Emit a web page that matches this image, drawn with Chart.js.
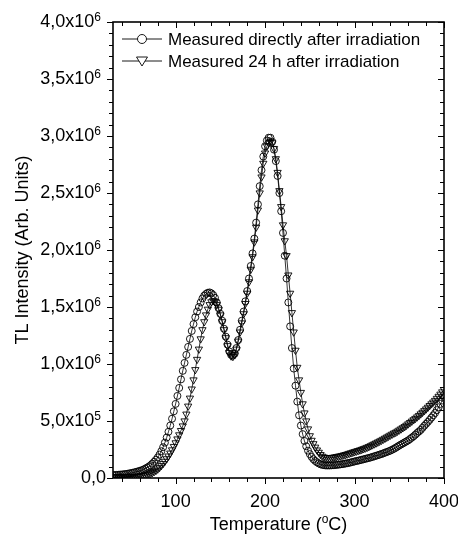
<!DOCTYPE html>
<html><head><meta charset="utf-8">
<script src="https://cdn.jsdelivr.net/npm/chart.js@4/dist/chart.umd.min.js"></script>
<style>html,body{margin:0;padding:0;background:#fff;}</style>
</head><body>
<canvas id="c" width="458" height="534"></canvas>
<script>
// Temperature (°C)
const temperatures = [30,32,34,36,38,40,42,44,46,48,50,52,54,56,58,60,62,64,66,68,70,72,74,76,78,80,82,84,86,88,90,92,94,96,98,100,102,104,106,108,110,112,114,116,118,120,122,124,126,128,130,132,134,136,138,140,142,144,146,148,150,152,154,156,158,160,162,164,166,168,170,172,174,176,178,180,182,184,186,188,190,192,194,196,198,200,202,204,206,208,210,212,214,216,218,220,222,224,226,228,230,232,234,236,238,240,242,244,246,248,250,252,254,256,258,260,262,264,266,268,270,272,274,276,278,280,282,284,286,288,290,292,294,296,298,300,302,304,306,308,310,312,314,316,318,320,322,324,326,328,330,332,334,336,338,340,342,344,346,348,350,352,354,356,358,360,362,364,366,368,370,372,374,376,378,380,382,384,386,388,390,392,394,396,398,400];
// TL intensity, in units of 10^6
const measuredDirectly = [0.025,0.026,0.027,0.028,0.030,0.031,0.033,0.035,0.037,0.040,0.043,0.046,0.050,0.054,0.058,0.063,0.068,0.074,0.082,0.091,0.100,0.112,0.126,0.142,0.160,0.180,0.205,0.235,0.270,0.310,0.355,0.405,0.460,0.520,0.585,0.650,0.720,0.790,0.865,0.940,1.010,1.080,1.150,1.220,1.290,1.350,1.410,1.460,1.500,1.540,1.575,1.600,1.615,1.625,1.628,1.620,1.605,1.580,1.540,1.490,1.440,1.380,1.310,1.240,1.170,1.110,1.080,1.075,1.090,1.140,1.210,1.300,1.380,1.460,1.550,1.640,1.750,1.860,1.970,2.100,2.240,2.400,2.560,2.700,2.820,2.910,2.960,2.985,2.985,2.950,2.880,2.780,2.650,2.500,2.340,2.150,1.950,1.750,1.540,1.330,1.140,0.960,0.810,0.670,0.550,0.460,0.385,0.325,0.278,0.240,0.210,0.185,0.165,0.150,0.138,0.128,0.120,0.115,0.112,0.110,0.110,0.110,0.111,0.112,0.113,0.115,0.117,0.119,0.121,0.124,0.127,0.130,0.133,0.137,0.141,0.145,0.149,0.152,0.156,0.160,0.164,0.168,0.172,0.176,0.180,0.185,0.190,0.195,0.200,0.205,0.210,0.216,0.222,0.228,0.234,0.240,0.248,0.256,0.265,0.275,0.285,0.294,0.303,0.312,0.321,0.330,0.342,0.354,0.366,0.380,0.395,0.408,0.422,0.440,0.458,0.475,0.492,0.510,0.530,0.550,0.570,0.595,0.620,0.650,0.680,0.710];
const measured24h = [0.010,0.010,0.010,0.010,0.010,0.010,0.010,0.010,0.011,0.011,0.012,0.012,0.013,0.014,0.015,0.017,0.019,0.022,0.025,0.029,0.034,0.040,0.047,0.056,0.066,0.078,0.092,0.108,0.126,0.146,0.168,0.192,0.218,0.246,0.276,0.308,0.342,0.378,0.416,0.456,0.500,0.560,0.630,0.700,0.780,0.860,0.950,1.040,1.130,1.220,1.300,1.370,1.430,1.480,1.520,1.545,1.555,1.545,1.520,1.480,1.430,1.370,1.300,1.230,1.160,1.100,1.070,1.065,1.080,1.130,1.200,1.280,1.360,1.440,1.530,1.620,1.720,1.830,1.940,2.070,2.200,2.350,2.500,2.640,2.760,2.850,2.910,2.940,2.950,2.940,2.890,2.800,2.680,2.520,2.380,2.220,2.080,1.950,1.780,1.620,1.450,1.280,1.120,0.970,0.860,0.750,0.650,0.570,0.500,0.430,0.370,0.330,0.300,0.270,0.245,0.225,0.205,0.190,0.182,0.178,0.177,0.177,0.179,0.181,0.184,0.187,0.190,0.193,0.197,0.201,0.205,0.210,0.215,0.220,0.225,0.230,0.235,0.240,0.245,0.250,0.256,0.262,0.268,0.275,0.282,0.290,0.298,0.306,0.314,0.322,0.330,0.339,0.348,0.357,0.366,0.375,0.384,0.393,0.400,0.410,0.420,0.430,0.440,0.450,0.462,0.474,0.486,0.498,0.510,0.522,0.535,0.548,0.562,0.576,0.590,0.605,0.620,0.635,0.650,0.665,0.680,0.698,0.716,0.735,0.755,0.775];
const seriesLabels = ["Measured directly after irradiation", "Measured 24 h after irradiation"];
const xTickValues = [100, 200, 300, 400];
const xTickLabels = ["100", "200", "300", "400"];
const yTickValues = [0, 5e5, 1e6, 1.5e6, 2e6, 2.5e6, 3e6, 3.5e6, 4e6];
const yTickLabels = ["0,0", "5,0x10", "1,0x10", "1,5x10", "2,0x10", "2,5x10", "3,0x10", "3,5x10", "4,0x10"];
const yTickExponents = ["", "5", "6", "6", "6", "6", "6", "6", "6"];
const xTitleMain = "Temperature (";
const xTitleSup = "o";
const xTitleEnd = "C)";
const yTitle = "TL Intensity (Arb. Units)";

const FONT = '"Liberation Sans", Arial, Helvetica, sans-serif';
const SCALE = 1e6;

const framePlugin = {
  id: 'frameTicks',
  afterDraw(chart) {
    const {ctx, chartArea: a, scales: {x, y}} = chart;
    ctx.save();
    ctx.strokeStyle = '#000';
    ctx.fillStyle = '#000';
    ctx.lineWidth = 1;
    const seg = (x1, y1, x2, y2) => { ctx.beginPath(); ctx.moveTo(x1, y1); ctx.lineTo(x2, y2); ctx.stroke(); };
    for (let v = 40; v <= 400; v += 20) {
      const px = Math.round(x.getPixelForValue(v)) + 0.5;
      const L = (v % 100 === 0) ? 6 : 4;
      seg(px, a.bottom, px, a.bottom + L);
      seg(px, a.top, px, a.top + L);
    }
    for (let v = 0; v <= 4e6 + 1; v += 1e5) {
      const py = Math.round(y.getPixelForValue(v)) + 0.5;
      const L = (Math.round(v / 1e5) % 5 === 0) ? 6 : 4;
      seg(a.left - L, py, a.left, py);
      seg(a.right - L, py, a.right, py);
    }
    ctx.lineWidth = 1.6;
    ctx.strokeRect(a.left, a.top, a.right - a.left, a.bottom - a.top);

    // y tick labels with raised exponents, placed by the y scale
    const mainFont = '18px ' + FONT, supFont = '12px ' + FONT;
    for (let i = 0; i < yTickValues.length; i++) {
      const py = y.getPixelForValue(yTickValues[i]);
      const exp = yTickExponents[i];
      ctx.font = supFont;
      const we = exp ? ctx.measureText(exp).width : 0;
      const right = exp ? a.left - 12 : a.left - 7;
      ctx.textAlign = 'right';
      ctx.textBaseline = 'middle';
      ctx.font = mainFont;
      ctx.fillText(yTickLabels[i], right - we, py);
      if (exp) {
        ctx.font = supFont;
        ctx.textBaseline = 'alphabetic';
        ctx.fillText(exp, right, py - 1);
      }
    }

    // x title with raised "o"
    ctx.textBaseline = 'alphabetic';
    ctx.textAlign = 'left';
    ctx.font = mainFont;
    const w1 = ctx.measureText(xTitleMain).width, w3 = ctx.measureText(xTitleEnd).width;
    ctx.font = supFont;
    const w2 = ctx.measureText(xTitleSup).width;
    const cx = (a.left + a.right) / 2;
    let tx = cx - (w1 + w2 + w3) / 2;
    const base = 530;
    ctx.font = mainFont; ctx.fillText(xTitleMain, tx, base); tx += w1;
    ctx.font = supFont; ctx.fillText(xTitleSup, tx, base - 7); tx += w2;
    ctx.font = mainFont; ctx.fillText(xTitleEnd, tx, base);

    // legend
    ctx.lineWidth = 0.9;
    ctx.font = '17px ' + FONT;
    ctx.textBaseline = 'middle';
    const ds = chart.data.datasets;
    for (let i = 0; i < ds.length; i++) {
      const yy = a.top + 17 + i * 22;
      seg(a.left + 9, yy, a.left + 49, yy);
      const mx = a.left + 29;
      ctx.fillStyle = '#fff';
      if (i === 0) {
        ctx.beginPath(); ctx.arc(mx, yy, 4.5, 0, Math.PI * 2); ctx.fill(); ctx.stroke();
      } else {
        ctx.beginPath(); ctx.moveTo(mx - 5.5, yy - 4); ctx.lineTo(mx + 5.5, yy - 4); ctx.lineTo(mx, yy + 5); ctx.closePath(); ctx.fill(); ctx.stroke();
      }
      ctx.fillStyle = '#000';
      ctx.fillText(ds[i].label, a.left + 55, yy + 1);
    }
    ctx.restore();
  }
};

new Chart(document.getElementById('c'), {
  type: 'line',
  data: {
    datasets: [
      {
        label: seriesLabels[0],
        data: temperatures.map((t, i) => ({x: t, y: measuredDirectly[i] * SCALE})),
        borderColor: '#000', borderWidth: 0.8,
        pointStyle: 'circle', pointRadius: 3.5, pointBorderWidth: 0.9,
        pointBorderColor: '#000', pointBackgroundColor: 'rgba(255,255,255,0)',
        tension: 0, fill: false
      },
      {
        label: seriesLabels[1],
        data: temperatures.map((t, i) => ({x: t, y: measured24h[i] * SCALE})),
        borderColor: '#000', borderWidth: 0.8,
        pointStyle: 'triangle', rotation: 180, pointRadius: 4.2, pointBorderWidth: 0.9,
        pointBorderColor: '#000', pointBackgroundColor: 'rgba(255,255,255,0)',
        tension: 0, fill: false
      }
    ]
  },
  options: {
    responsive: false, animation: false, devicePixelRatio: 1,
    layout: {padding: {top: 22, right: 14, bottom: 0, left: 0}},
    plugins: {legend: {display: false}, tooltip: {enabled: false}},
    scales: {
      x: {
        type: 'linear', min: 30, max: 400,
        afterBuildTicks: s => { s.ticks = xTickValues.map(v => ({value: v})); },
        afterFit: s => { s.height = 56; s.paddingRight = 0; s.paddingLeft = 0; },
        grid: {display: false, drawTicks: false},
        border: {display: false},
        ticks: {
          color: '#000', font: {family: FONT, size: 18}, padding: 13, maxRotation: 0, autoSkip: false,
          callback: (v) => { const i = xTickValues.indexOf(v); return i >= 0 ? xTickLabels[i] : ''; }
        },
        title: {display: false}
      },
      y: {
        type: 'linear', min: 0, max: 4e6,
        afterBuildTicks: s => { s.ticks = yTickValues.map(v => ({value: v})); },
        afterFit: s => { s.width = 113; },
        grid: {display: false, drawTicks: false},
        border: {display: false},
        ticks: {display: false},
        title: {display: true, text: yTitle, color: '#000', font: {family: FONT, size: 18}, padding: {top: 12, bottom: 0}}
      }
    }
  },
  plugins: [framePlugin]
});
</script>
</body></html>
